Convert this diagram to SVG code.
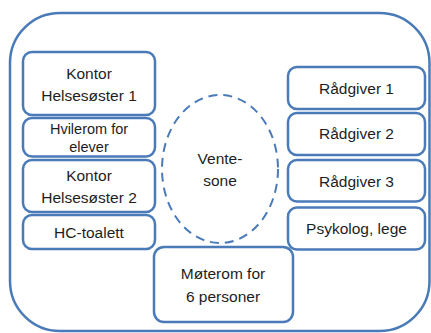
<svg xmlns="http://www.w3.org/2000/svg" width="431" height="333" viewBox="0 0 431 333">
  <style>
    .room { fill: #ffffff; stroke: #4a7ab8; stroke-width: 2.5; }
    .wait { fill: none; stroke: #4a7ab8; stroke-width: 2; stroke-dasharray: 9 6; }
    .lbl { font-family: "Liberation Sans", Arial, sans-serif; font-size: 15.5px; fill: #1e1e1e; text-anchor: middle; }
    .small { font-size: 14.5px; }
  </style>
  <rect x="0" y="0" width="431" height="333" fill="#ffffff"/>

  <!-- outer floor outline -->
  <g id="floor">
    <rect class="room" x="10" y="13" width="419.5" height="318" rx="50" ry="50"/>
  </g>

  <!-- left column -->
  <g id="kontor1">
    <rect class="room" x="23" y="52" width="132" height="63" rx="9"/>
    <text class="lbl" x="89" y="79">Kontor</text>
    <text class="lbl" x="89" y="100.5">Helsesøster 1</text>
  </g>
  <g id="hvilerom">
    <rect class="room" x="23" y="118" width="132" height="38.5" rx="9"/>
    <text class="lbl small" x="89" y="133.5">Hvilerom for</text>
    <text class="lbl small" x="89" y="152">elever</text>
  </g>
  <g id="kontor2">
    <rect class="room" x="23" y="160" width="132" height="52" rx="9"/>
    <text class="lbl" x="89" y="181">Kontor</text>
    <text class="lbl" x="89" y="202.5">Helsesøster 2</text>
  </g>
  <g id="hc-toalett">
    <rect class="room" x="23" y="215" width="132" height="34" rx="9"/>
    <text class="lbl" x="89" y="237.5">HC-toalett</text>
  </g>

  <!-- waiting zone -->
  <g id="ventesone">
    <ellipse class="wait" cx="220" cy="169" rx="58" ry="74"/>
    <text class="lbl" x="220" y="164">Vente-</text>
    <text class="lbl" x="220" y="186">sone</text>
  </g>

  <!-- meeting room -->
  <g id="moterom">
    <rect class="room" x="154" y="247" width="139" height="75" rx="10"/>
    <text class="lbl" x="223" y="279">Møterom for</text>
    <text class="lbl" x="223" y="302">6 personer</text>
  </g>

  <!-- right column -->
  <g id="radgiver1">
    <rect class="room" x="288" y="67" width="137" height="42" rx="9"/>
    <text class="lbl" x="356.5" y="93.5">Rådgiver 1</text>
  </g>
  <g id="radgiver2">
    <rect class="room" x="288" y="113" width="137" height="42" rx="9"/>
    <text class="lbl" x="356.5" y="138.5">Rådgiver 2</text>
  </g>
  <g id="radgiver3">
    <rect class="room" x="288" y="160" width="137" height="41.5" rx="9"/>
    <text class="lbl" x="356.5" y="186.5">Rådgiver 3</text>
  </g>
  <g id="psykolog">
    <rect class="room" x="288" y="207.5" width="137" height="42" rx="9"/>
    <text class="lbl" x="356.5" y="233.5">Psykolog, lege</text>
  </g>
</svg>
